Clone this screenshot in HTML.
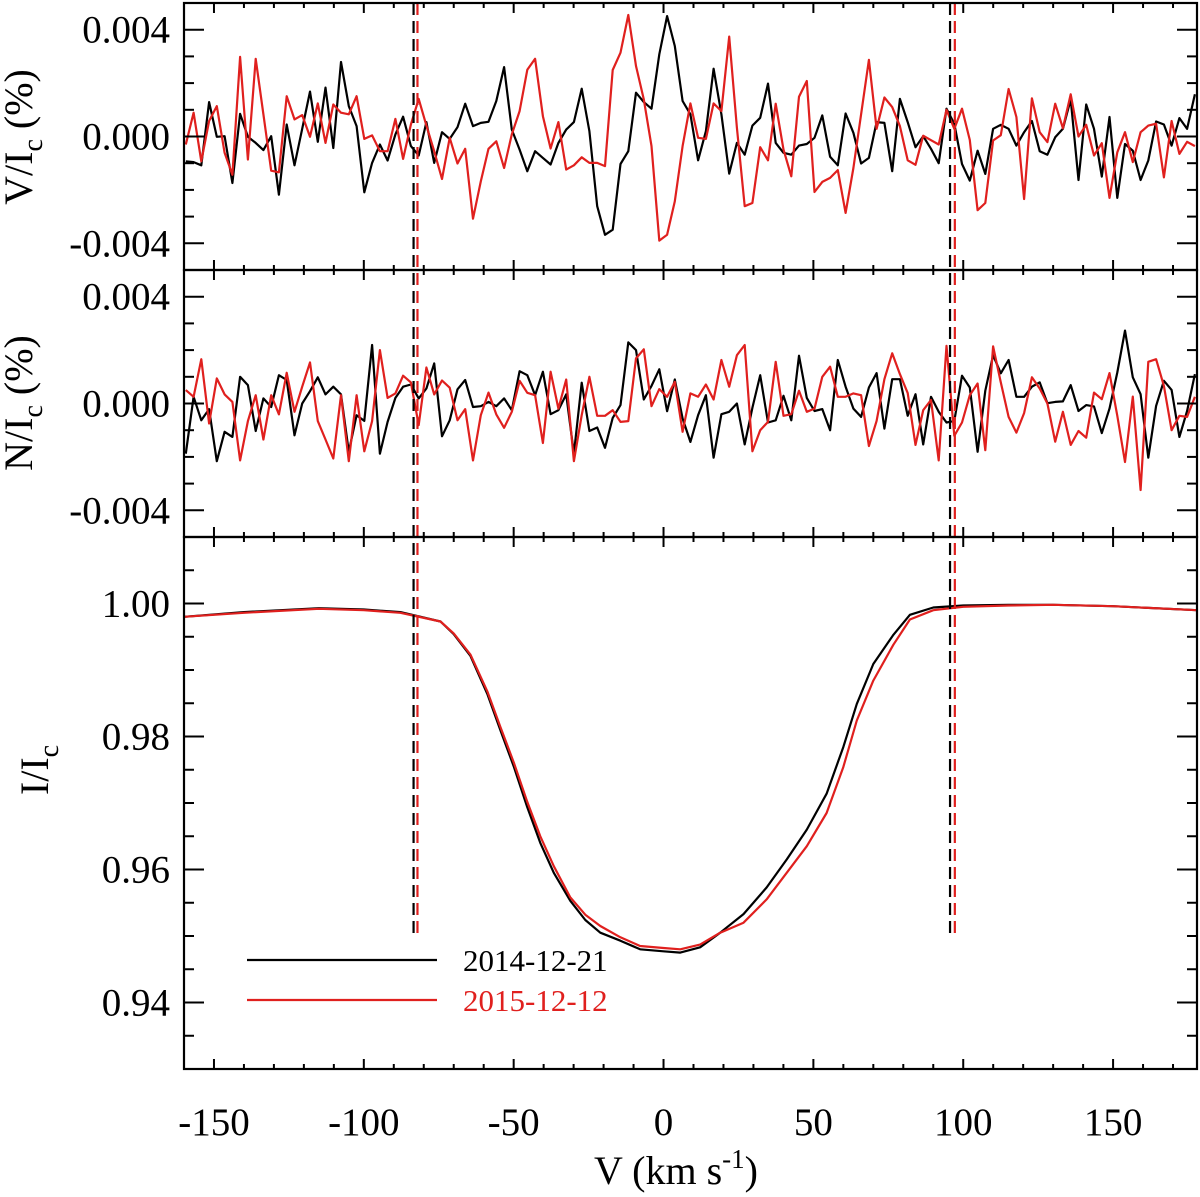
<!DOCTYPE html>
<html><head><meta charset="utf-8"><style>
html,body{margin:0;padding:0;background:#fff;}
svg{display:block;font-family:"Liberation Serif",serif;}
</style></head><body>
<svg id="chart" width="1200" height="1197" viewBox="0 0 1200 1197" xmlns="http://www.w3.org/2000/svg"></svg>
<script>
const vStart = -159.4;
const vStep = 2.59;
const vBlack = [-0.93,-0.96,-1.08,1.29,-0.01,0.01,-1.74,0.85,-0.01,-0.24,-0.51,0.01,-2.18,0.45,-1.08,0.29,1.68,-0.2,1.83,-0.43,2.79,1.14,0.39,-2.09,-0.99,-0.3,-0.9,0.08,0.74,-0.36,-0.71,0.54,-0.99,0.16,-0.09,0.35,1.23,0.39,0.51,0.55,1.33,2.6,0.26,-0.49,-1.3,
-0.55,-0.8,-1.05,-0.24,0.26,0.54,1.79,0.2,-2.61,-3.68,-3.49,-1.03,-0.55,1.64,1.29,1.04,3.08,4.51,3.39,1.33,0.83,-0.89,0.2,2.54,0.83,-1.39,-0.24,-0.68,0.41,0.7,1.98,-0.24,-0.61,-0.68,-0.34,-0.28,-0.05,0.79,-0.76,-1.08,0.86,0.14,-1.01,-0.8,
0.54,0.51,-1.3,1.41,0.54,-0.4,0.01,-0.46,-1.0,1.04,0.48,-1.03,-1.65,-0.53,-1.4,0.29,0.44,0.29,-0.34,0.16,0.58,-0.55,-0.68,-0.03,0.29,1.39,-1.63,1.2,0.29,-1.5,0.73,-2.3,-0.28,-0.53,-1.63,-0.9,0.56,0.45,-0.34,0.69,0.29,1.58];
const vRed = [-0.3,0.89,-0.93,0.58,1.14,-0.61,-1.43,2.98,-0.86,2.91,0.83,-1.28,-1.34,1.51,0.64,0.8,-0.01,1.24,-0.24,1.2,0.89,0.83,1.51,-0.09,0.04,-0.55,-0.55,0.66,-0.84,0.45,1.41,0.41,-0.55,-1.59,-0.05,-1.01,-0.46,-3.08,-1.68,-0.46,-0.18,-1.18,0.08,0.95,2.5,
2.91,0.76,-0.45,0.54,-1.24,-1.08,-0.78,-0.99,-0.99,-1.11,2.49,3.14,4.55,2.64,1.39,-0.36,-3.9,-3.68,-2.43,-0.36,1.24,-0.05,-0.09,1.24,0.95,3.74,0.33,-2.61,-2.49,-0.4,-0.89,1.23,-0.49,-1.49,1.49,2.08,-2.08,-1.7,-1.55,-1.26,-2.86,-1.18,0.83,2.87,
0.29,1.46,1.1,0.39,-0.89,-1.06,0.03,-0.14,-0.3,1.0,0.29,1.04,-0.13,-2.76,-2.49,-0.15,0.05,1.78,0.73,-2.34,1.43,0.16,-0.21,1.23,0.31,1.58,0.0,0.44,-0.71,-0.25,-2.3,-0.59,0.16,-0.96,0.16,0.41,0.48,-1.53,0.58,-0.65,-0.2,-0.36];
const nBlack = [-1.88,0.25,-0.63,-0.21,-2.16,-1.06,-1.25,1.0,0.69,-1.03,0.19,-0.13,1.06,0.88,-1.19,0,0.46,0.98,0.34,0.63,0.34,-1.81,-0.44,-0.65,2.19,-1.88,-0.69,0.21,0.63,0.71,0.19,0.56,1.5,-1.23,-0.63,0.53,0.88,-0.13,-0.1,0.06,-0.1,0.19,-0.25,1.21,1.06,
0.31,1.19,-0.4,-0.25,0.34,-1.88,0.78,-1.03,-0.9,-1.66,-0.54,-0.06,2.29,2.0,0.15,0.66,1.28,-0.29,0.9,-0.56,-1.44,-0.44,0.31,-2.03,-0.4,-0.31,0,-1.53,-0.16,1.06,-0.71,-0.63,0.29,-0.63,1.79,0.21,-0.28,-0.21,-1.0,1.63,0.63,-0.19,-0.5,0.6,
1.14,-0.94,0.91,0.91,-0.46,0.35,-1.53,0.25,-0.31,-0.71,-0.65,1.04,0.6,-1.81,0.48,1.81,1.13,1.63,0.25,0.25,0.63,0.79,0.01,0.06,0.08,0.69,-0.28,-0.06,-0.11,-1.11,-0.19,1.16,2.73,0.98,0.35,-2.03,-0.09,0.85,0.51,-1.25,-0.28,1.1];
const nRed = [0.5,0.25,1.66,-0.75,0.94,0.34,0.06,-2.13,-0.66,0.31,-1.35,0.31,-0.41,1.15,-0.31,0.63,1.54,-0.66,-1.35,-2.06,0.31,-2.16,0.31,-1.79,-0.66,2.0,0.21,0.38,1.04,0.79,-0.81,1.35,0.34,0.86,0.59,-0.63,-0.21,-2.13,-0.44,0.41,-0.41,-0.91,-0.31,0.85,0.4,
0.31,-1.48,1.19,-0.19,0.9,-2.16,-0.44,1.0,-0.46,-0.46,-0.25,-0.69,-0.66,1.69,2.03,-0.1,0.54,0.25,0.81,-1.06,0.38,0.25,0.71,0.15,1.63,0.63,1.81,2.19,-1.79,-1.0,-0.69,1.56,-0.46,-0.4,0.48,-0.31,-0.19,1.0,1.38,0.25,0.25,0.38,0.31,-1.59,
-0.65,0.91,1.88,1.1,0.39,-1.55,-0.25,0.13,-2.13,2.16,-1.21,-0.71,0.31,0.75,-1.75,2.14,0.79,-0.5,-1.09,-0.36,0.98,0.56,0,-1.43,-0.31,-1.55,-1.03,-1.28,0.41,0.16,1.14,-0.46,-2.19,0.26,-3.24,1.56,1.66,0.66,-1.0,-0.46,-0.5,0.25];
const iVel = [-160,-140,-115,-100,-87.8,-74.4,-70,-64.4,-58.8,-54.4,-49.9,-45.5,-41.1,-36.6,-31.1,-26.1,-21.1,-14.4,-7.8,0,5.6,12.2,18.9,26.7,34.4,41.1,47.8,54.4,60,64.5,70,76.7,82.2,90,100,115,130,150,178];
const iBlack = [0.998,0.9987,0.9993,0.9991,0.9987,0.9973,0.9954,0.9921,0.9864,0.9809,0.9754,0.9694,0.964,0.9595,0.9553,0.9524,0.9505,0.9493,0.948,0.9477,0.9475,0.9483,0.9505,0.9533,0.9573,0.9615,0.966,0.9714,0.9784,0.9849,0.9909,0.9953,0.9983,0.9994,0.9997,0.9998,0.9998,0.9996,0.999];
const iRed = [0.998,0.9986,0.9992,0.999,0.9986,0.9973,0.9955,0.9923,0.9868,0.9814,0.976,0.9702,0.965,0.9605,0.9558,0.9532,0.9515,0.9498,0.9485,0.9482,0.948,0.9487,0.9505,0.952,0.9555,0.9595,0.9635,0.9685,0.9754,0.9824,0.9884,0.9938,0.9976,0.999,0.9995,0.9997,0.9998,0.9996,0.999];
const vLinesBlack = [-83.4, 95.6];
const vLinesRed = [-82.1, 97.2];
const xTicks = [-150,-100,-50,0,50,100,150];
const pTicks = [0.004,0.000,-0.004];
const iTicks = [1.00,0.98,0.96,0.94];

const NS='http://www.w3.org/2000/svg';
const svg=document.getElementById('chart');
const L=184,R=1197;
const xs=v=>L+(v+160)/(338)*(R-L);
const panels={v:{top:3,bot:270,min:-5,max:5},n:{top:270,bot:537,min:-5,max:5},i:{top:537,bot:1069,min:0.93,max:1.01}};
const ys=(p,val)=>p.bot-(val-p.min)/(p.max-p.min)*(p.bot-p.top);
function mk(tag,attrs,parent){const e=document.createElementNS(NS,tag);for(const k in attrs)e.setAttribute(k,attrs[k]);(parent||svg).appendChild(e);return e;}

function series(p,vals,color,name,velArr){
  let d='';
  vals.forEach((val,i)=>{const v=velArr?velArr[i]:vStart+i*vStep;d+=(i?'L':'M')+xs(v).toFixed(1)+','+ys(p,val).toFixed(1);});
  const e=mk('path',{d:d,fill:'none',stroke:color,'stroke-width':2.2,'stroke-linejoin':'round','clip-path':'url(#clip)'});
  
  
}
const defs=mk('defs',{});const cp=mk('clipPath',{id:'clip'},defs);mk('rect',{x:L,y:3,width:R-L,height:1066},cp);

series(panels.v,vBlack,'#000','v-series-2014');
series(panels.v,vRed,'#e0201e','v-series-2015');
series(panels.n,nBlack,'#000','n-series-2014');
series(panels.n,nRed,'#e0201e','n-series-2015');
series(panels.i,iBlack,'#000','i-series-2014',iVel);
series(panels.i,iRed,'#e0201e','i-series-2015',iVel);

vLinesBlack.forEach(v=>{const e=mk('line',{x1:xs(v),x2:xs(v),y1:3,y2:935,stroke:'#000','stroke-width':2.2,'stroke-dasharray':'12,6'});
  
  });
vLinesRed.forEach(v=>{const e=mk('line',{x1:xs(v),x2:xs(v),y1:3,y2:935,stroke:'#e0201e','stroke-width':2.2,'stroke-dasharray':'12,6'});
  
  });

for(const key in panels){
  const p=panels[key];
  const f=mk('rect',{x:L,y:p.top,width:R-L,height:p.bot-p.top,fill:'none',stroke:'#000','stroke-width':2.2});
  
  
  for(let v=-160;v<=178;v+=10){
    const maj=v%50===0, len=maj?10:5, x=xs(v);
    mk('line',{x1:x,x2:x,y1:p.bot,y2:p.bot-len,stroke:'#000','stroke-width':2});
    mk('line',{x1:x,x2:x,y1:p.top,y2:p.top+len,stroke:'#000','stroke-width':2});
  }
  if(key!=='i'){
    for(let t=-5;t<=5;t++){
      const maj=t%4===0,len=maj?20:10,y=ys(p,t);
      mk('line',{x1:L,x2:L+len,y1:y,y2:y,stroke:'#000','stroke-width':2});
      mk('line',{x1:R,x2:R-len,y1:y,y2:y,stroke:'#000','stroke-width':2});
    }
    pTicks.forEach(t=>{const e=mk('text',{x:170,y:ys(p,t*1000)+13,'text-anchor':'end','font-size':39});e.textContent=t.toFixed(3);
      
      });
  } else {
    for(let t=0.93;t<=1.0101;t+=0.005){
      const maj=Math.abs(Math.round(t*100)-t*100)<1e-6 && Math.round(t*100)%2===0,len=maj?20:10,y=ys(p,t);
      mk('line',{x1:L,x2:L+len,y1:y,y2:y,stroke:'#000','stroke-width':2});
      mk('line',{x1:R,x2:R-len,y1:y,y2:y,stroke:'#000','stroke-width':2});
    }
    iTicks.forEach(t=>{const e=mk('text',{x:170,y:ys(p,t)+13,'text-anchor':'end','font-size':39});e.textContent=t.toFixed(2);
      
      });
  }
}
xTicks.forEach(t=>{const e=mk('text',{x:xs(t),y:1135,'text-anchor':'middle','font-size':39});e.textContent=String(t);
  
  });
</script>
<svg style="position:absolute;left:0;top:0" width="1200" height="1197">
<text transform="translate(32,137) rotate(-90)" text-anchor="middle" font-size="40" font-family="Liberation Serif, serif">V/I<tspan font-size="28" dy="10">c</tspan><tspan dy="-10"> (%)</tspan></text>
<text transform="translate(32,403) rotate(-90)" text-anchor="middle" font-size="40" font-family="Liberation Serif, serif">N/I<tspan font-size="28" dy="10">c</tspan><tspan dy="-10"> (%)</tspan></text>
<text transform="translate(48,770) rotate(-90)" text-anchor="middle" font-size="40" font-family="Liberation Serif, serif">I/I<tspan font-size="28" dy="10">c</tspan></text>
<text x="676" y="1184" text-anchor="middle" font-size="40" font-family="Liberation Serif, serif">V (km s<tspan font-size="27" dy="-16">-1</tspan><tspan dy="16">)</tspan></text>
<g>
<line x1="247" x2="437" y1="960" y2="960" stroke="#000" stroke-width="2.2"/>
<text x="463" y="971" font-size="31" font-family="Liberation Serif, serif" fill="#000">2014-12-21</text>
<line x1="247" x2="437" y1="1000" y2="1000" stroke="#e0201e" stroke-width="2.2"/>
<text x="463" y="1011" font-size="31" font-family="Liberation Serif, serif" fill="#e0201e">2015-12-12</text>
</g>
</svg>
</body></html>
